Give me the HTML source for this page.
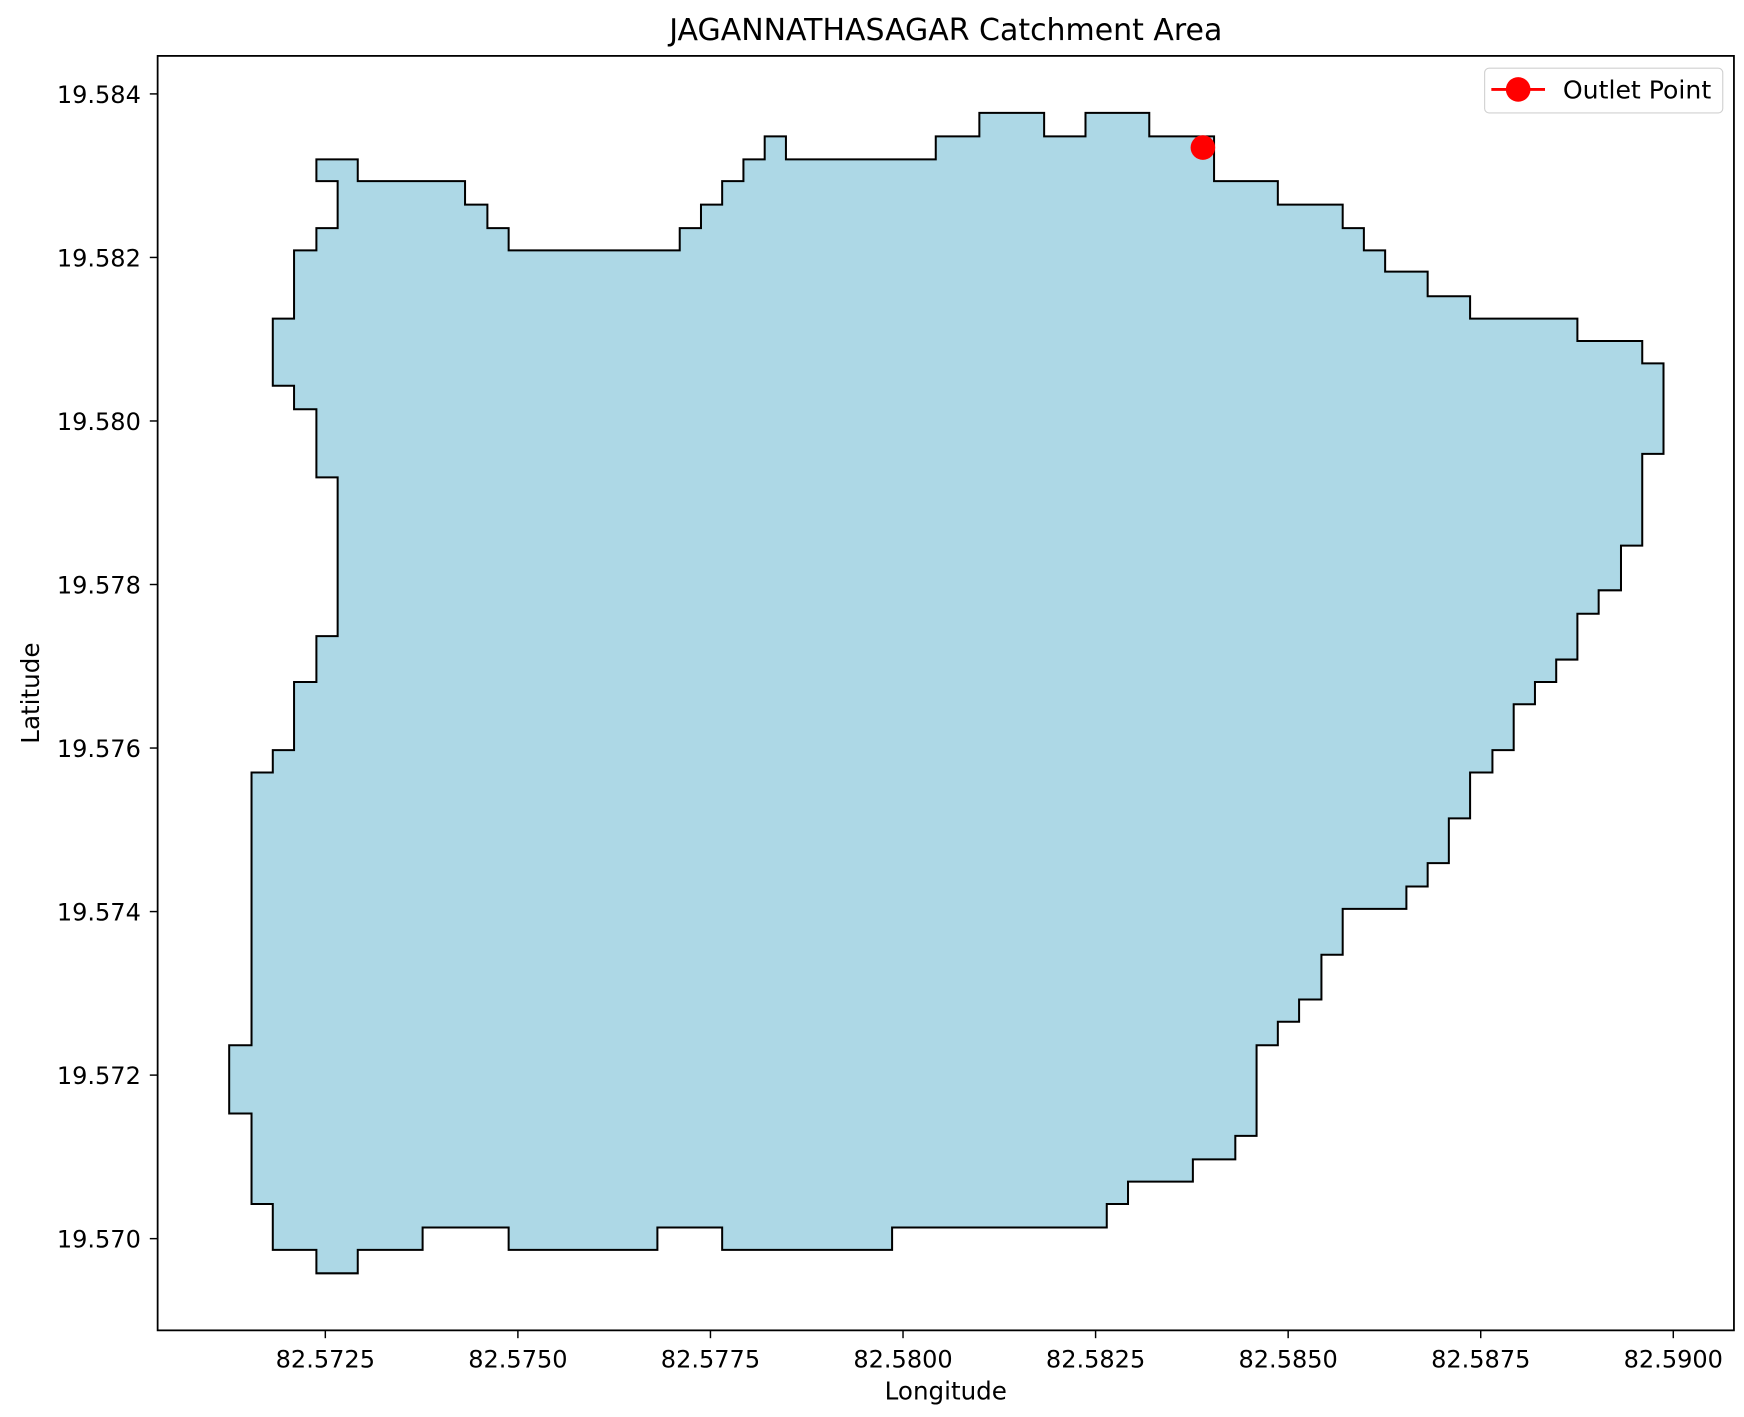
<!DOCTYPE html>
<html><head><meta charset="utf-8"><style>
html,body{margin:0;padding:0;background:#fff}
svg{display:block;font-family:"DejaVu Sans","Liberation Sans",sans-serif}
</style></head><body>
<svg id="chart" width="1744" height="1417" viewBox="0 0 1560 1267.5" xmlns="http://www.w3.org/2000/svg">
<rect width="1560" height="1267.5" fill="#fff"/>
<text x="846" y="36" font-size="26.8" text-anchor="middle">JAGANNATHASAGAR Catchment Area</text>
<g id="plot"></g>
<rect x="141" y="50" width="1410" height="1140" fill="none" stroke="#000" stroke-width="1.6"/>
<g id="axes"></g>
<text x="846" y="1252" font-size="22" text-anchor="middle">Longitude</text>
<text transform="translate(35,620) rotate(-90)" font-size="22" text-anchor="middle">Latitude</text>
<g>
<rect x="1328" y="61" width="213" height="40" rx="4" fill="#fff" fill-opacity="0.8" stroke="#d0d0d0" stroke-width="1"/>
<line x1="1334" y1="80" x2="1382" y2="80" stroke="red" stroke-width="2.5"/>
<circle cx="1358" cy="80" r="11" fill="red"/>
<text x="1398" y="88" font-size="22.5">Outlet Point</text>
</g>
</svg>
<script>
const lon=[82.572384,82.572921,82.572921,82.574314,82.574314,82.574604,82.574604,82.574880,82.574880,82.577101,82.577101,82.577377,82.577377,82.577652,82.577652,82.577928,82.577928,82.578204,82.578204,82.578480,82.578480,82.580425,82.580425,82.580991,82.580991,82.581832,82.581832,82.582369,82.582369,82.583197,82.583197,82.584038,82.584038,82.584866,82.584866,82.585708,82.585708,82.585983,82.585983,82.586259,82.586259,82.586811,82.586811,82.587362,82.587362,82.588755,82.588755,82.589597,82.589597,82.589873,82.589873,82.589597,82.589597,82.589321,82.589321,82.589031,82.589031,82.588755,82.588755,82.588480,82.588480,82.588204,82.588204,82.587928,82.587928,82.587652,82.587652,82.587362,82.587362,82.587086,82.587086,82.586811,82.586811,82.586535,82.586535,82.585708,82.585708,82.585432,82.585432,82.585142,82.585142,82.584866,82.584866,82.584590,82.584590,82.584314,82.584314,82.583763,82.583763,82.582921,82.582921,82.582645,82.582645,82.579858,82.579858,82.577652,82.577652,82.576811,82.576811,82.574880,82.574880,82.573763,82.573763,82.572921,82.572921,82.572384,82.572384,82.571818,82.571818,82.571542,82.571542,82.571252,82.571252,82.571542,82.571542,82.571818,82.571818,82.572094,82.572094,82.572384,82.572384,82.572660,82.572660,82.572384,82.572384,82.572094,82.572094,82.571818,82.571818,82.572094,82.572094,82.572384,82.572384,82.572660,82.572660,82.572384];
const lat=[19.583200,19.583200,19.582934,19.582934,19.582646,19.582646,19.582359,19.582359,19.582086,19.582086,19.582359,19.582359,19.582646,19.582646,19.582934,19.582934,19.583200,19.583200,19.583480,19.583480,19.583200,19.583200,19.583480,19.583480,19.583768,19.583768,19.583480,19.583480,19.583768,19.583768,19.583480,19.583480,19.582934,19.582934,19.582646,19.582646,19.582359,19.582359,19.582086,19.582086,19.581826,19.581826,19.581525,19.581525,19.581252,19.581252,19.580978,19.580978,19.580705,19.580705,19.579598,19.579598,19.578476,19.578476,19.577929,19.577929,19.577642,19.577642,19.577082,19.577082,19.576808,19.576808,19.576535,19.576535,19.575974,19.575974,19.575701,19.575701,19.575140,19.575140,19.574593,19.574593,19.574306,19.574306,19.574033,19.574033,19.573472,19.573472,19.572925,19.572925,19.572652,19.572652,19.572365,19.572365,19.571257,19.571257,19.570970,19.570970,19.570697,19.570697,19.570423,19.570423,19.570136,19.570136,19.569863,19.569863,19.570136,19.570136,19.569863,19.569863,19.570136,19.570136,19.569863,19.569863,19.569576,19.569576,19.569863,19.569863,19.570423,19.570423,19.571531,19.571531,19.572365,19.572365,19.575701,19.575701,19.575974,19.575974,19.576808,19.576808,19.577369,19.577369,19.579310,19.579310,19.580144,19.580144,19.580431,19.580431,19.581252,19.581252,19.582086,19.582086,19.582359,19.582359,19.582934,19.582934];
const outletLon=[82.583893];
const outletLat=[19.583344];
const xTicks=[82.5725,82.5750,82.5775,82.5800,82.5825,82.5850,82.5875,82.5900];
const xTickLabels=["82.5725","82.5750","82.5775","82.5800","82.5825","82.5850","82.5875","82.5900"];
const yTicks=[19.570,19.572,19.574,19.576,19.578,19.580,19.582,19.584];
const yTickLabels=["19.570","19.572","19.574","19.576","19.578","19.580","19.582","19.584"];

const NS="http://www.w3.org/2000/svg";
function xs(v){return 291+(v-82.5725)*68900;}
function ys(v){return 84+(19.584-v)*73140;}
const plot=document.getElementById('plot');
const axes=document.getElementById('axes');
let d='';
for(let i=0;i<lon.length;i++){d+=(i?'L':'M')+xs(lon[i]).toFixed(2)+' '+ys(lat[i]).toFixed(2);}
d+='Z';
const poly=document.createElementNS(NS,'path');
poly.setAttribute('d',d);
poly.setAttribute('fill','#add8e6');
poly.setAttribute('stroke','#000');
poly.setAttribute('stroke-width','1.8');


plot.appendChild(poly);
for(let i=0;i<outletLon.length;i++){
  const c=document.createElementNS(NS,'circle');
  c.setAttribute('cx',xs(outletLon[i]));c.setAttribute('cy',ys(outletLat[i]));c.setAttribute('r',11);c.setAttribute('fill','red');
  
  
  plot.appendChild(c);
}
xTicks.forEach((v,i)=>{
  const x=xs(v);
  const l=document.createElementNS(NS,'line');
  l.setAttribute('x1',x);l.setAttribute('x2',x);l.setAttribute('y1',1190);l.setAttribute('y2',1197);l.setAttribute('stroke','#000');l.setAttribute('stroke-width','1.3');
  
  
  axes.appendChild(l);
  const t=document.createElementNS(NS,'text');
  t.setAttribute('x',x);t.setAttribute('y',1223);t.setAttribute('font-size','21.5');t.setAttribute('text-anchor','middle');
  t.textContent=xTickLabels[i];
  
  
  axes.appendChild(t);
});
yTicks.forEach((v,i)=>{
  const y=ys(v);
  const l=document.createElementNS(NS,'line');
  l.setAttribute('x1',134);l.setAttribute('x2',141);l.setAttribute('y1',y);l.setAttribute('y2',y);l.setAttribute('stroke','#000');l.setAttribute('stroke-width','1.3');
  
  
  axes.appendChild(l);
  const t=document.createElementNS(NS,'text');
  t.setAttribute('x',126);t.setAttribute('y',y+8);t.setAttribute('font-size','21.5');t.setAttribute('text-anchor','end');
  t.textContent=yTickLabels[i];
  
  
  axes.appendChild(t);
});
</script>
</body></html>
